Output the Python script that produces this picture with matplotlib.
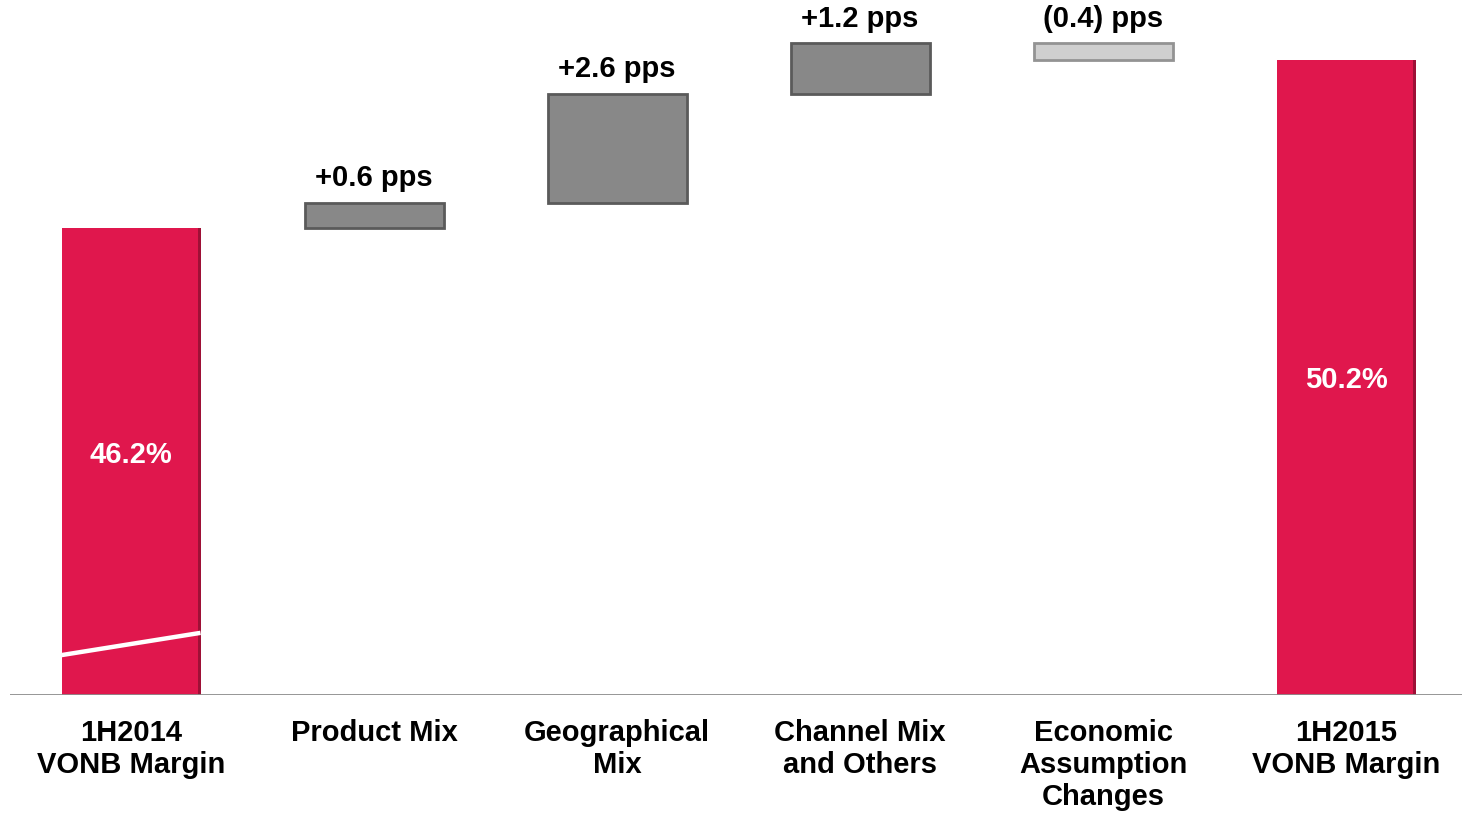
import matplotlib
matplotlib.use("Agg")
import matplotlib.pyplot as plt
from matplotlib.lines import Line2D

plt.rcParams['font.family'] = ['Liberation Sans', 'DejaVu Sans']

categories = ["1H2014\nVONB Margin", "Product Mix", "Geographical\nMix",
              "Channel Mix\nand Others", "Economic\nAssumption\nChanges",
              "1H2015\nVONB Margin"]
start_value = 46.2
end_value = 50.2
changes = [0.6, 2.6, 1.2, -0.4]
change_labels = ["+0.6 pps", "+2.6 pps", "+1.2 pps", "(0.4) pps"]
total_labels = ["46.2%", "50.2%"]

RED = "#E0174D"
RED_EDGE = "#9E1036"
GRAY = "#888888"
GRAY_EDGE = "#5A5A5A"
LIGHT = "#CFCFCF"
LIGHT_EDGE = "#939393"

fig = plt.figure(figsize=(14.62, 8.13), dpi=100)
ax = fig.add_axes([10 / 1462, (813 - 695) / 813, 1 - 10 / 1462, 695 / 813])

# broken value axis: the visible range starts well above zero
y_low, y_high = 35.08, 51.63
ax.set_ylim(y_low, y_high)
ax.set_xlim(-0.498, 5.477)
width = 0.572

# totals
for xi, v in [(0, start_value), (5, end_value)]:
    ax.bar(xi, v - y_low, bottom=y_low, width=width, color=RED,
           linewidth=0, zorder=2)
    # dark right-hand shading
    ax.bar(xi + width / 2 - 0.006, v - y_low, bottom=y_low, width=0.012,
           color=RED_EDGE, linewidth=0, zorder=3)

# floating change bars
level = start_value
for i, (c, lab) in enumerate(zip(changes, change_labels)):
    x = i + 1
    lo = min(level, level + c)
    top = max(level, level + c)
    face, edge = (GRAY, GRAY_EDGE) if c >= 0 else (LIGHT, LIGHT_EDGE)
    ax.bar(x, abs(c), bottom=lo, width=width, color=face, edgecolor=edge,
           linewidth=2.0, zorder=2)
    ax.annotate(lab, (x, top), xytext=(0, 12), textcoords="offset points",
                ha="center", va="baseline", fontsize=21, fontweight="bold",
                color="black", annotation_clip=False)
    level += c

# value labels inside the totals
ax.text(0, (start_value + y_low) / 2 + 0.15, total_labels[0], ha="center",
        va="center", color="white", fontsize=21, fontweight="bold", zorder=4)
ax.text(5, (end_value + y_low) / 2 - 0.05, total_labels[1], ha="center",
        va="center", color="white", fontsize=21, fontweight="bold", zorder=4)

# axis-break slash across the first bar
ax.add_line(Line2D([0 - width / 2, 0 + width / 2], [36.03, 36.56],
                   color="white", linewidth=3.2, zorder=5,
                   solid_capstyle="butt"))

# baseline
ax.axhline(y_low, color="#8C8C8C", linewidth=2, zorder=4)

for s in ax.spines.values():
    s.set_visible(False)
ax.set_yticks([])
ax.set_xticks(range(len(categories)))
ax.set_xticklabels(categories, fontsize=21, fontweight="bold",
                   linespacing=1.2, va="top")
ax.tick_params(axis="x", length=0, pad=17)

fig.savefig("out.png", dpi=100, facecolor="white")
